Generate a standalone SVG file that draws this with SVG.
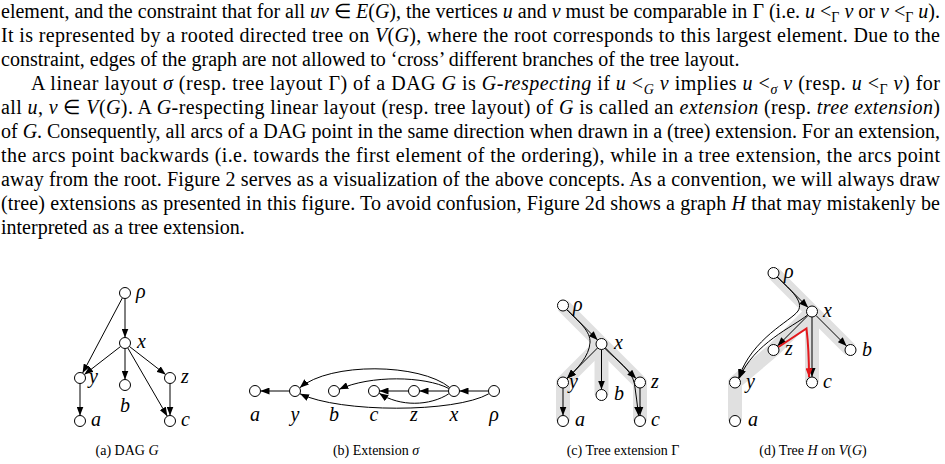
<svg xmlns="http://www.w3.org/2000/svg" width="945" height="464" viewBox="0 0 945 464">
<style>
.t{font-family:"Liberation Serif","Times New Roman",serif;font-size:20px;fill:#000}
.i{font-style:italic}
.s{font-size:14px}
.lbl{font-family:"Liberation Serif","Times New Roman",serif;font-style:italic;font-size:20px;fill:#000}
.lblc{font-family:"Liberation Serif","Times New Roman",serif;font-style:italic;font-size:20px;fill:#000;text-anchor:middle}
.cap{font-family:"Liberation Serif","Times New Roman",serif;font-size:14px;fill:#000;text-anchor:middle}
.n{fill:#fff;stroke:#000;stroke-width:1}
.e{fill:none;stroke:#000;stroke-width:1;marker-end:url(#ah)}
.band{fill:none;stroke:#e0e0e0;stroke-width:14;stroke-linejoin:round}
.red{fill:none;stroke:#e3181c;stroke-width:2;marker-end:url(#ahr)}
</style>
<defs>
<marker id="ah" viewBox="0 0 9 7" refX="9" refY="3.5" markerWidth="9" markerHeight="7" markerUnits="userSpaceOnUse" orient="auto"><path d="M0,0 L9,3.5 L0,7 z" fill="#000"/></marker>
<marker id="ahr" viewBox="0 0 9 7" refX="9" refY="3.5" markerWidth="9" markerHeight="7" markerUnits="userSpaceOnUse" orient="auto"><path d="M0,0 L9,3.5 L0,7 z" fill="#e3181c"/></marker>
</defs>

<g id="body-text" class="t">
<text x="1" y="18" textLength="939">element, and the constraint that for all <tspan class="i">uv</tspan> ∈ <tspan class="i">E</tspan>(<tspan class="i">G</tspan>), the vertices <tspan class="i">u</tspan> and <tspan class="i">v</tspan> must be comparable in Γ (i.e. <tspan class="i">u</tspan> &lt;<tspan class="s" dy="4">Γ</tspan><tspan dy="-4"> </tspan><tspan class="i">v</tspan> or <tspan class="i">v</tspan> &lt;<tspan class="s" dy="4">Γ</tspan><tspan dy="-4"> </tspan><tspan class="i">u</tspan>).</text>
<text x="1" y="42" textLength="939">It is represented by a rooted directed tree on <tspan class="i">V</tspan>(<tspan class="i">G</tspan>), where the root corresponds to this largest element. Due to the</text>
<text x="1" y="66">constraint, edges of the graph are not allowed to ‘cross’ different branches of the tree layout.</text>
<text x="31" y="90" textLength="909">A linear layout <tspan class="i">σ</tspan> (resp. tree layout Γ) of a DAG <tspan class="i">G</tspan> is <tspan class="i">G-respecting</tspan> if <tspan class="i">u</tspan> &lt;<tspan class="s i" dy="4">G</tspan><tspan dy="-4"> </tspan><tspan class="i">v</tspan> implies <tspan class="i">u</tspan> &lt;<tspan class="s i" dy="4">σ</tspan><tspan dy="-4"> </tspan><tspan class="i">v</tspan> (resp. <tspan class="i">u</tspan> &lt;<tspan class="s" dy="4">Γ</tspan><tspan dy="-4"> </tspan><tspan class="i">v</tspan>) for</text>
<text x="1" y="114" textLength="939">all <tspan class="i">u</tspan>, <tspan class="i">v</tspan> ∈ <tspan class="i">V</tspan>(<tspan class="i">G</tspan>). A <tspan class="i">G</tspan>-respecting linear layout (resp. tree layout) of <tspan class="i">G</tspan> is called an <tspan class="i">extension</tspan> (resp. <tspan class="i">tree extension</tspan>)</text>
<text x="1" y="138" textLength="939">of <tspan class="i">G</tspan>. Consequently, all arcs of a DAG point in the same direction when drawn in a (tree) extension. For an extension,</text>
<text x="1" y="162" textLength="939">the arcs point backwards (i.e. towards the first element of the ordering), while in a tree extension, the arcs point</text>
<text x="1" y="186" textLength="939">away from the root. Figure 2 serves as a visualization of the above concepts. As a convention, we will always draw</text>
<text x="1" y="210" textLength="939">(tree) extensions as presented in this figure. To avoid confusion, Figure 2d shows a graph <tspan class="i">H</tspan> that may mistakenly be</text>
<text x="1" y="234">interpreted as a tree extension.</text>
</g>

<!-- (a) DAG G -->
<g id="fig-a">
<g id="a-edges">
<path class="e" d="M125,298.5 L125,337.5"/>
<path class="e" d="M122.4,297.9 L82.6,373.1"/>
<path class="e" d="M120.7,346.4 L84.3,374.6"/>
<path class="e" d="M125,348.5 L125,379.5"/>
<path class="e" d="M129.3,346.4 L165.7,374.6"/>
<path class="e" d="M127.7,347.8 L167.3,416.2"/>
<path class="e" d="M170,383.5 L170,415.5"/>
<path class="e" d="M80,383.5 L80,415.5"/>
</g>
<g id="a-rho"><circle class="n" cx="125" cy="293" r="5.5"/><text class="lbl" x="136" y="298">ρ</text></g>
<g id="a-x"><circle class="n" cx="125" cy="343" r="5.5"/><text class="lbl" x="137" y="348">x</text></g>
<g id="a-y"><circle class="n" cx="80" cy="378" r="5.5"/><text class="lbl" x="89" y="383">y</text></g>
<g id="a-b"><circle class="n" cx="125" cy="385" r="5.5"/><text class="lblc" x="125" y="412">b</text></g>
<g id="a-z"><circle class="n" cx="170" cy="378" r="5.5"/><text class="lbl" x="181" y="383">z</text></g>
<g id="a-a"><circle class="n" cx="80" cy="421" r="5.5"/><text class="lbl" x="91" y="426">a</text></g>
<g id="a-c"><circle class="n" cx="170" cy="421" r="5.5"/><text class="lbl" x="181" y="426">c</text></g>
<text class="cap" x="127" y="455">(a) DAG <tspan font-style="italic">G</tspan></text>
</g>

<!-- (b) Extension sigma -->
<g id="fig-b">
<g id="b-edges">
<path class="e" d="M289.5,391 L260.5,391"/>
<path class="e" d="M408.5,391 L379.5,391"/>
<path class="e" d="M448.5,391 L419.5,391"/>
<path class="e" d="M488.5,391 L459.5,391"/>
<path class="e" d="M449.8,387.6 C420,363 330,362 299.8,387.8"/>
<path class="e" d="M448.8,388.5 C425,376 370,375 339.3,389.3"/>
<path class="e" d="M448.8,393.8 C430,406 400,407 379.3,393.3"/>
<path class="e" d="M488.8,393.8 C455,413 340,413 300,393.8"/>
</g>
<g id="b-a"><circle class="n" cx="255" cy="391" r="5.5"/><text class="lblc" x="255" y="421">a</text></g>
<g id="b-y"><circle class="n" cx="295" cy="391" r="5.5"/><text class="lblc" x="295" y="421">y</text></g>
<g id="b-b"><circle class="n" cx="334" cy="391" r="5.5"/><text class="lblc" x="334" y="421">b</text></g>
<g id="b-c"><circle class="n" cx="374" cy="391" r="5.5"/><text class="lblc" x="374" y="421">c</text></g>
<g id="b-z"><circle class="n" cx="414" cy="391" r="5.5"/><text class="lblc" x="414" y="421">z</text></g>
<g id="b-x"><circle class="n" cx="454" cy="391" r="5.5"/><text class="lblc" x="454" y="421">x</text></g>
<g id="b-rho"><circle class="n" cx="494" cy="391" r="5.5"/><text class="lblc" x="494" y="421">ρ</text></g>
<text class="cap" x="376" y="455">(b) Extension <tspan font-style="italic">σ</tspan></text>
</g>

<!-- (c) Tree extension Gamma -->
<g id="fig-c">
<g id="c-bands">
<path class="band" d="M563,305.5 L601.5,344 L640,382.5 L640,421"/>
<path class="band" d="M601.5,344 L563,382.5 L563,421"/>
<path class="band" d="M601.5,344 L601.5,395"/>
</g>
<g id="c-edges">
<path class="e" d="M566.9,309.4 L597.6,340.1"/>
<path class="e" d="M566.5,309.5 C578,321 591,331 590,343 C589,356 578,368 567.2,378.5"/>
<path class="e" d="M597.6,347.9 L566.9,378.6"/>
<path class="e" d="M601.5,349.5 L601.5,389.5"/>
<path class="e" d="M605.4,347.9 L636.1,378.6"/>
<path class="e" d="M605,348.5 C617,361 632,370 634.5,384 C636,395 637.5,405 638.6,415.7"/>
<path class="e" d="M640,388 L640,415.5"/>
<path class="e" d="M563,388 L563,415.5"/>
</g>
<g id="c-rho"><circle class="n" cx="563" cy="305.5" r="5.5"/><text class="lbl" x="573" y="310.5">ρ</text></g>
<g id="c-x"><circle class="n" cx="601.5" cy="344" r="5.5"/><text class="lbl" x="614" y="349">x</text></g>
<g id="c-y"><circle class="n" cx="563" cy="382.5" r="5.5"/><text class="lbl" x="569" y="387.5">y</text></g>
<g id="c-b"><circle class="n" cx="601.5" cy="395" r="5.5"/><text class="lbl" x="614" y="400">b</text></g>
<g id="c-z"><circle class="n" cx="640" cy="382.5" r="5.5"/><text class="lbl" x="651" y="387.5">z</text></g>
<g id="c-a"><circle class="n" cx="563" cy="421" r="5.5"/><text class="lbl" x="575" y="426">a</text></g>
<g id="c-c"><circle class="n" cx="640" cy="421" r="5.5"/><text class="lbl" x="651" y="426">c</text></g>
<text class="cap" x="623" y="455">(c) Tree extension Γ</text>
</g>

<!-- (d) Tree H on V(G) -->
<g id="fig-d">
<g id="d-bands">
<path class="band" d="M773.5,273 L812,311.5 L850.5,350"/>
<path class="band" d="M812,311.5 L812,382.5"/>
<path class="band" d="M812,311.5 L773.5,350 L735,382.5 L735,421"/>
</g>
<g id="d-edges">
<path class="e" d="M777.4,276.9 L808.1,307.6"/>
<path class="e" d="M777,277 C792,291 804,302 798,311 C791,321 752,338 738.6,378.1"/>
<path class="e" d="M807.5,315 C793,327 754,343 739.2,378.4"/>
<path class="e" d="M808.1,315.4 L777.4,346.1"/>
<path class="e" d="M815.9,315.4 L846.6,346.1"/>
<path class="e" d="M812,317 L812,377"/>
<path class="red" d="M778.5,347 L806.5,328.5 Q809,350 809,377.3"/>
</g>
<g id="d-rho"><circle class="n" cx="773.5" cy="273" r="5.5"/><text class="lbl" x="784" y="278">ρ</text></g>
<g id="d-x"><circle class="n" cx="812" cy="311.5" r="5.5"/><text class="lbl" x="823" y="316.5">x</text></g>
<g id="d-z"><circle class="n" cx="773.5" cy="350" r="5.5"/><text class="lbl" x="785" y="355">z</text></g>
<g id="d-b"><circle class="n" cx="850.5" cy="350" r="5.5"/><text class="lbl" x="862" y="356">b</text></g>
<g id="d-y"><circle class="n" cx="735" cy="382.5" r="5.5"/><text class="lbl" x="746" y="387.5">y</text></g>
<g id="d-c"><circle class="n" cx="812" cy="382.5" r="5.5"/><text class="lbl" x="823" y="387.5">c</text></g>
<g id="d-a"><circle class="n" cx="735" cy="421" r="5.5"/><text class="lbl" x="748" y="426">a</text></g>
<text class="cap" x="813" y="455">(d) Tree <tspan font-style="italic">H</tspan> on <tspan font-style="italic">V</tspan>(<tspan font-style="italic">G</tspan>)</text>
</g>
</svg>
